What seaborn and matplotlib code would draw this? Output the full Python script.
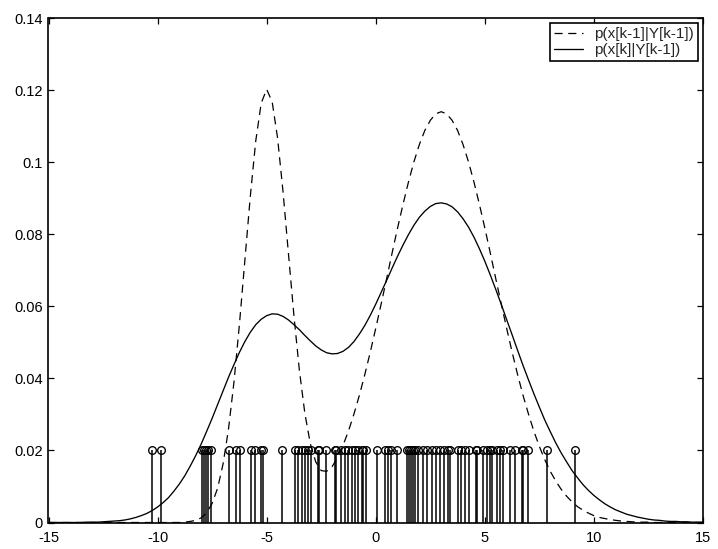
import matplotlib
matplotlib.use("Agg")
import matplotlib.pyplot as plt
import seaborn as sns
import pandas as pd

# ---- data ----
x_grid = [
    -15.00, -14.75, -14.50, -14.25, -14.00, -13.75, -13.50, -13.25, -13.00, -12.75,
    -12.50, -12.25, -12.00, -11.75, -11.50, -11.25, -11.00, -10.75, -10.50, -10.25,
    -10.00, -9.75, -9.50, -9.25, -9.00, -8.75, -8.50, -8.25, -8.00, -7.75,
    -7.50, -7.25, -7.00, -6.75, -6.50, -6.25, -6.00, -5.75, -5.50, -5.25,
    -5.00, -4.75, -4.50, -4.25, -4.00, -3.75, -3.50, -3.25, -3.00, -2.75,
    -2.50, -2.25, -2.00, -1.75, -1.50, -1.25, -1.00, -0.75, -0.50, -0.25,
    0.00, 0.25, 0.50, 0.75, 1.00, 1.25, 1.50, 1.75, 2.00, 2.25,
    2.50, 2.75, 3.00, 3.25, 3.50, 3.75, 4.00, 4.25, 4.50, 4.75,
    5.00, 5.25, 5.50, 5.75, 6.00, 6.25, 6.50, 6.75, 7.00, 7.25,
    7.50, 7.75, 8.00, 8.25, 8.50, 8.75, 9.00, 9.25, 9.50, 9.75,
    10.00, 10.25, 10.50, 10.75, 11.00, 11.25, 11.50, 11.75, 12.00, 12.25,
    12.50, 12.75, 13.00, 13.25, 13.50, 13.75, 14.00, 14.25, 14.50, 14.75,
    15.00,
]

# p(x[k-1]|Y[k-1])  (dashed)
prior_density = [
    0.0000, 0.0000, 0.0000, 0.0000, 0.0000, 0.0000, 0.0000, 0.0000, 0.0000, 0.0000,
    0.0000, 0.0000, 0.0000, 0.0000, 0.0000, 0.0000, 0.0000, 0.0000, 0.0000, 0.0000,
    0.0000, 0.0000, 0.0000, 0.0000, 0.0000, 0.0001, 0.0003, 0.0006, 0.0013, 0.0027,
    0.0053, 0.0095, 0.0162, 0.0259, 0.0389, 0.0549, 0.0727, 0.0905, 0.1059, 0.1164,
    0.1202, 0.1168, 0.1067, 0.0918, 0.0745, 0.0574, 0.0422, 0.0303, 0.0219, 0.0168,
    0.0144, 0.0142, 0.0155, 0.0180, 0.0214, 0.0254, 0.0301, 0.0353, 0.0411, 0.0473,
    0.0539, 0.0607, 0.0677, 0.0748, 0.0817, 0.0883, 0.0945, 0.1001, 0.1049, 0.1088,
    0.1116, 0.1134, 0.1140, 0.1134, 0.1116, 0.1088, 0.1049, 0.1001, 0.0945, 0.0883,
    0.0817, 0.0748, 0.0677, 0.0607, 0.0539, 0.0473, 0.0411, 0.0353, 0.0301, 0.0253,
    0.0211, 0.0174, 0.0142, 0.0115, 0.0092, 0.0073, 0.0057, 0.0044, 0.0034, 0.0026,
    0.0019, 0.0014, 0.0011, 0.0008, 0.0006, 0.0004, 0.0003, 0.0002, 0.0001, 0.0001,
    0.0001, 0.0000, 0.0000, 0.0000, 0.0000, 0.0000, 0.0000, 0.0000, 0.0000, 0.0000,
    0.0000,
]

# p(x[k]|Y[k-1])  (solid)
predicted_density = [
    0.0000, 0.0000, 0.0000, 0.0000, 0.0000, 0.0000, 0.0000, 0.0001, 0.0001, 0.0001,
    0.0002, 0.0003, 0.0004, 0.0005, 0.0007, 0.0010, 0.0014, 0.0019, 0.0025, 0.0033,
    0.0043, 0.0055, 0.0069, 0.0087, 0.0107, 0.0130, 0.0157, 0.0186, 0.0218, 0.0253,
    0.0289, 0.0327, 0.0365, 0.0403, 0.0438, 0.0472, 0.0502, 0.0528, 0.0549, 0.0564,
    0.0574, 0.0579, 0.0578, 0.0572, 0.0562, 0.0549, 0.0535, 0.0519, 0.0504, 0.0490,
    0.0479, 0.0471, 0.0468, 0.0469, 0.0475, 0.0486, 0.0502, 0.0523, 0.0547, 0.0575,
    0.0606, 0.0639, 0.0672, 0.0706, 0.0739, 0.0770, 0.0799, 0.0825, 0.0847, 0.0864,
    0.0877, 0.0885, 0.0887, 0.0884, 0.0876, 0.0862, 0.0843, 0.0820, 0.0792, 0.0760,
    0.0725, 0.0687, 0.0647, 0.0606, 0.0563, 0.0521, 0.0478, 0.0436, 0.0396, 0.0357,
    0.0320, 0.0284, 0.0252, 0.0221, 0.0193, 0.0168, 0.0144, 0.0124, 0.0105, 0.0089,
    0.0075, 0.0063, 0.0052, 0.0043, 0.0035, 0.0029, 0.0023, 0.0019, 0.0015, 0.0012,
    0.0009, 0.0007, 0.0006, 0.0004, 0.0003, 0.0003, 0.0002, 0.0002, 0.0001, 0.0001,
    0.0001,
]

# particle positions (stems), each with weight 0.02
particles = [
    -10.26, -9.83, -7.98, -7.89, -7.80, -7.71, -7.54, -6.74, -6.39, -6.24,
    -5.70, -5.55, -5.25, -5.16, -4.28, -3.72, -3.56, -3.39, -3.26, -3.12,
    -2.98, -2.66, -2.62, -2.27, -1.88, -1.81, -1.57, -1.42, -1.27, -1.11,
    -0.96, -0.83, -0.64, -0.59, -0.43, 0.06, 0.41, 0.56, 0.72, 0.98,
    1.42, 1.51, 1.61, 1.70, 1.79, 1.94, 2.17, 2.37, 2.56, 2.75,
    2.94, 3.12, 3.32, 3.39, 3.78, 3.93, 4.08, 4.28, 4.59, 4.66,
    4.92, 5.08, 5.25, 5.32, 5.54, 5.69, 5.84, 6.15, 6.38, 6.70,
    6.77, 6.99, 7.84, 9.13,
]
particle_weight = 0.02

legend_labels = ["p(x[k-1]|Y[k-1])", "p(x[k]|Y[k-1])"]
x_ticks = [-15, -10, -5, 0, 5, 10, 15]
y_ticks = [0, 0.02, 0.04, 0.06, 0.08, 0.1, 0.12, 0.14]
y_tick_labels = ["0", "0.02", "0.04", "0.06", "0.08", "0.1", "0.12", "0.14"]

# ---- plotting ----
sns.set_theme(style="white")
plt.rcParams["font.family"] = ["Liberation Sans", "DejaVu Sans"]
plt.rcParams["font.size"] = 10.5

fig = plt.figure(figsize=(7.18, 5.49), dpi=100)
ax = fig.add_axes([48.5 / 718, 1 - 522.5 / 549, (703 - 48.5) / 718, (522.5 - 18) / 549])

df = pd.DataFrame({"x": x_grid, "prior": prior_density, "pred": predicted_density})

sns.lineplot(data=df, x="x", y="prior", ax=ax, color="black", linewidth=0.9,
             sort=False, label=legend_labels[0])
sns.lineplot(data=df, x="x", y="pred", ax=ax, color="black", linewidth=0.95,
             sort=False, label=legend_labels[1])
ax.lines[0].set_dashes([6.5, 4.5])

# stems
weights = [particle_weight] * len(particles)
ax.vlines(particles, 0, weights, colors="black", linewidth=1.1)
ax.plot(particles, weights, linestyle="none", marker="o", markersize=5.5,
        markerfacecolor="none", markeredgecolor="black", markeredgewidth=0.95)

ax.set_xlim(-15, 15)
ax.set_ylim(0, 0.14)
ax.set_xticks(x_ticks)
ax.set_xticklabels([str(t) for t in x_ticks])
ax.set_yticks(y_ticks)
ax.set_yticklabels(y_tick_labels)
ax.set_xlabel("")
ax.set_ylabel("")
ax.tick_params(direction="in", length=4, width=0.9, colors="black",
               top=True, right=True, bottom=True, left=True,
               labelsize=10.5)
ax.tick_params(axis="x", pad=6)
ax.tick_params(axis="y", pad=4)
for sp in ax.spines.values():
    sp.set_visible(True)
    sp.set_color("black")
    sp.set_linewidth(1.2)

leg = ax.legend(loc="upper right", frameon=True, fancybox=False, framealpha=1,
                edgecolor="black", fontsize=11, labelspacing=0.12,
                borderpad=0.25, handlelength=1.9, handletextpad=0.75,
                borderaxespad=0.35)
leg.get_frame().set_linewidth(1.2)
leg.get_lines()[0].set_dashes([6.5, 4.5])

fig.savefig("out.png", dpi=100)
